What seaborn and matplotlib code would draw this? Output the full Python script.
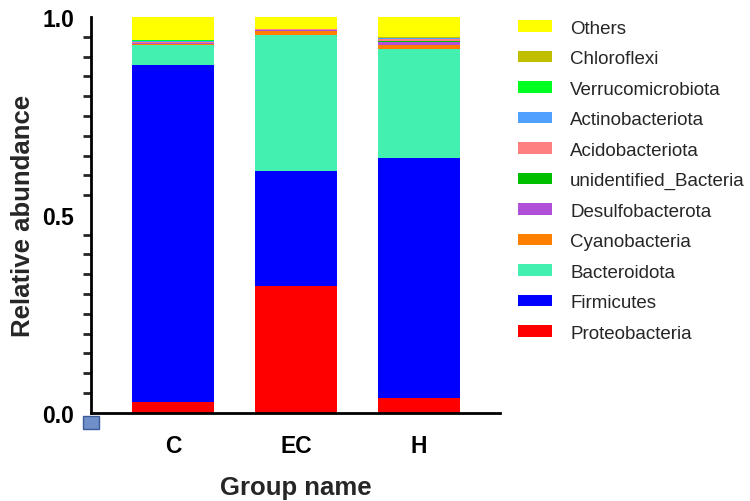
import numpy as np
import pandas as pd
import matplotlib
matplotlib.use("Agg")
import matplotlib.pyplot as plt
from matplotlib.ticker import MultipleLocator
from matplotlib.patches import Rectangle
import seaborn as sns

# groups and taxa (bottom -> top of each stacked bar)
groups = ["C", "EC", "H"]
taxa = ["Proteobacteria", "Firmicutes", "Bacteroidota", "Cyanobacteria",
        "Desulfobacterota", "unidentified_Bacteria", "Acidobacteriota",
        "Actinobacteriota", "Verrucomicrobiota", "Chloroflexi", "Others"]
colors = ["#FF0000", "#0000FF", "#44F0B0", "#FF8000", "#B050D8", "#00BF00",
          "#FF8080", "#50A0FF", "#00FF20", "#BFBF00", "#FFFF00"]

# relative abundance
proteobacteria = [0.027, 0.321, 0.036]
firmicutes = [0.852, 0.290, 0.609]
bacteroidota = [0.050, 0.344, 0.274]
cyanobacteria = [0.003, 0.009, 0.010]
desulfobacterota = [0.002, 0.003, 0.009]
unidentified = [0.001, 0.001, 0.002]
acidobacteriota = [0.003, 0.001, 0.004]
actinobacteriota = [0.002, 0.001, 0.003]
verrucomicrobiota = [0.001, 0.000, 0.001]
chloroflexi = [0.001, 0.000, 0.002]
others = [0.058, 0.030, 0.050]

df = pd.DataFrame({
    "Proteobacteria": proteobacteria, "Firmicutes": firmicutes,
    "Bacteroidota": bacteroidota, "Cyanobacteria": cyanobacteria,
    "Desulfobacterota": desulfobacterota, "unidentified_Bacteria": unidentified,
    "Acidobacteriota": acidobacteriota, "Actinobacteriota": actinobacteriota,
    "Verrucomicrobiota": verrucomicrobiota, "Chloroflexi": chloroflexi,
    "Others": others}, index=groups)
cum = df[taxa].cumsum(axis=1)

sns.set_style("white")
plt.rcParams["font.family"] = ["Liberation Sans", "DejaVu Sans"]

fig = plt.figure(figsize=(7.5, 5.02), dpi=100)
ax = fig.add_axes([0.1213, 0.176, 0.5453, 0.788])

# draw cumulative heights from the top layer down so lower layers overlay
for name, col in reversed(list(zip(taxa, colors))):
    sns.barplot(x=groups, y=cum[name].values, color=col, width=0.667,
                saturation=1, linewidth=0, label=name, ax=ax)

ax.set_xlim(-0.667, 2.66)
ax.set_ylim(0, 1.0)
ax.yaxis.set_major_locator(MultipleLocator(0.5))
ax.yaxis.set_minor_locator(MultipleLocator(0.05))
ax.yaxis.set_major_formatter(plt.FormatStrFormatter("%.1f"))

for s in ["top", "right"]:
    ax.spines[s].set_visible(False)
for s in ["left", "bottom"]:
    ax.spines[s].set_linewidth(2)
    ax.spines[s].set_color("black")

ax.tick_params(axis="both", which="major", direction="out", length=9, width=2,
               colors="black", labelsize=16.5)
ax.tick_params(axis="y", which="minor", direction="out", length=6, width=2, left=True)
ax.tick_params(axis="y", which="major", pad=3)
ax.tick_params(axis="x", pad=6.5)
for lab in ax.get_xticklabels() + ax.get_yticklabels():
    lab.set_fontweight("bold")

ax.set_xlabel("Group name", fontsize=18.5, fontweight="bold", labelpad=12.5)
ax.set_ylabel("Relative abundance", fontsize=18.5, fontweight="bold", labelpad=5)

# little GraphPad-style marker at the origin
fig.patches.append(Rectangle((83 / 750, 1 - 430 / 502), 16 / 750, 13 / 502,
                             transform=fig.transFigure, facecolor="#6F8FC8",
                             edgecolor="#3A5A9A", linewidth=1))

handles, labels = ax.get_legend_handles_labels()
ax.legend(handles, labels, loc="upper left", bbox_to_anchor=(0.69, 0.959),
          bbox_transform=fig.transFigure, frameon=False, fontsize=13.5,
          handlelength=1.85, handleheight=0.55, handletextpad=0.95,
          labelspacing=0.72, borderaxespad=0, borderpad=0)

fig.savefig("out.png", dpi=100)
